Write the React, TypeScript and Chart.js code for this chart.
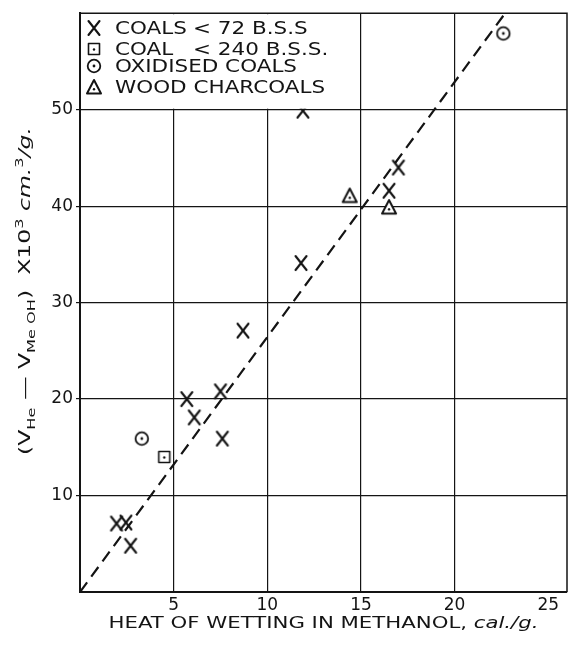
import React, { useEffect, useRef } from "react";
import { Chart, registerables } from "chart.js";

Chart.register(...registerables);

// ---- data ----
const coalsX = [11.9, 11.8, 8.7, 7.5, 5.7, 6.1, 7.6, 1.95, 2.45, 2.7, 17.0, 16.5];
const coalsY = [49.9, 34.1, 27.1, 20.8, 20.0, 18.1, 15.9, 7.1, 7.2, 4.8, 44.0, 41.6];
const coal240X = [4.5];
const coal240Y = [14.0];
const oxidisedX = [3.3, 22.6];
const oxidisedY = [15.9, 57.9];
const woodX = [14.4, 16.5];
const woodY = [41.1, 39.9];
const fitX = [0, 22.7];
const fitY = [0, 60];

const xTicks = [5, 10, 15, 20, 25];
const yTicks = [10, 20, 30, 40, 50];

const legendMain = ["COALS", "COAL", "OXIDISED COALS", "WOOD CHARCOALS"];
const legendSuffix = ["< 72 B.S.S", "< 240 B.S.S.", "", ""];

const xTitleParts = [
  { t: "HEAT OF WETTING IN METHANOL, ", italic: false },
  { t: "cal./g.", italic: true },
];
const yTitleParts = [
  { t: "(V" },
  { t: "He", sub: true },
  { t: " \u2014 V" },
  { t: "Me OH", sub: true },
  { t: ")" },
  { t: "  X10" },
  { t: "3", sup: true },
  { t: " cm.", italic: true },
  { t: "3", sup: true },
  { t: "/g.", italic: true },
];

const FONT = "DejaVu Sans";
const INK = "#141414";

type Part = { t: string; italic?: boolean; sub?: boolean; sup?: boolean };

function makeMarker(kind: string): HTMLCanvasElement {
  const c = document.createElement("canvas");
  c.width = 20;
  c.height = 20;
  const g = c.getContext("2d")!;
  g.strokeStyle = INK;
  g.fillStyle = INK;
  g.lineWidth = 1.8;
  g.lineCap = "round";
  g.lineJoin = "round";
  const m = 10;
  if (kind === "x") {
    g.lineWidth = 2.1;
    g.beginPath();
    g.moveTo(4.5, 3);
    g.lineTo(15.5, 17);
    g.moveTo(15.5, 3);
    g.lineTo(4.5, 17);
    g.stroke();
  } else if (kind === "circle") {
    g.fillStyle = "#fff";
    g.beginPath();
    g.arc(m, m, 6.3, 0, Math.PI * 2);
    g.fill();
    g.stroke();
    g.fillStyle = INK;
    g.beginPath();
    g.arc(m, m, 1.4, 0, Math.PI * 2);
    g.fill();
  } else if (kind === "square") {
    g.fillStyle = "#fff";
    g.fillRect(4, 4, 12, 12);
    g.lineWidth = 1.6;
    g.strokeRect(4.5, 4.5, 11, 11);
    g.fillStyle = INK;
    g.beginPath();
    g.arc(m, m + 0.5, 1.2, 0, Math.PI * 2);
    g.fill();
  } else if (kind === "triangle") {
    g.fillStyle = "#fff";
    g.beginPath();
    g.moveTo(m, 3);
    g.lineTo(17, 16.5);
    g.lineTo(3, 16.5);
    g.closePath();
    g.fill();
    g.lineWidth = 2;
    g.stroke();
    g.fillStyle = INK;
    g.beginPath();
    g.arc(m, 12.2, 1.2, 0, Math.PI * 2);
    g.fill();
  }
  return c;
}

function drawRich(
  ctx: CanvasRenderingContext2D,
  parts: Part[],
  size: number,
  targetW: number
) {
  const fontFor = (p: Part) =>
    `${p.italic ? "italic " : ""}${p.sub || p.sup ? Math.round(size * 0.66) : size}px "${FONT}"`;
  const widths = parts.map((p) => {
    ctx.font = fontFor(p);
    return ctx.measureText(p.t).width;
  });
  const total = widths.reduce((a, b) => a + b, 0);
  const sx = targetW / total;
  ctx.save();
  ctx.scale(sx, 1);
  ctx.textAlign = "left";
  ctx.textBaseline = "alphabetic";
  ctx.fillStyle = INK;
  let x = -total / 2;
  parts.forEach((p, i) => {
    ctx.font = fontFor(p);
    const dy = p.sub ? size * 0.3 : p.sup ? -size * 0.45 : 0;
    ctx.fillText(p.t, x, dy);
    x += widths[i];
  });
  ctx.restore();
}

export default function App() {
  const ref = useRef<HTMLCanvasElement | null>(null);

  useEffect(() => {
    if (!ref.current) return;
    const mX = makeMarker("x");
    const mCircle = makeMarker("circle");
    const mSquare = makeMarker("square");
    const mTri = makeMarker("triangle");
    const legendMarkers = [mX, mSquare, mCircle, mTri];

    const pts = (xs: number[], ys: number[]) => xs.map((x, i) => ({ x, y: ys[i] }));

    const decor = {
      id: "decor",
      afterDraw(chart: any) {
        const ctx: CanvasRenderingContext2D = chart.ctx;
        const a = chart.chartArea;
        ctx.save();
        // frame (top and right)
        ctx.strokeStyle = INK;
        ctx.lineWidth = 1.5;
        ctx.beginPath();
        ctx.moveTo(a.left, a.top);
        ctx.lineTo(a.right, a.top);
        ctx.lineTo(a.right, a.bottom);
        ctx.stroke();

        // legend box (white, covers grid)
        ctx.fillStyle = "#fff";
        ctx.fillRect(a.left + 1.2, a.top + 1, 240, 94.5);
        const rowsY = [34, 55, 72, 93];
        ctx.font = `17px "${FONT}"`;
        const refW = ctx.measureText("OXIDISED COALS").width;
        const sx = 182 / refW;
        legendMain.forEach((lab, i) => {
          const y = rowsY[i];
          const mk = legendMarkers[i];
          ctx.drawImage(mk, 94 - 10, y - 6 - 10, 20, 20);
          ctx.save();
          ctx.translate(115, y);
          ctx.scale(sx, 1);
          ctx.fillStyle = INK;
          ctx.font = `17px "${FONT}"`;
          ctx.textAlign = "left";
          ctx.textBaseline = "alphabetic";
          ctx.fillText(lab, 0, 0);
          ctx.restore();
          if (legendSuffix[i]) {
            ctx.save();
            ctx.translate(193, y);
            ctx.scale(sx, 1);
            ctx.fillStyle = INK;
            ctx.font = `17px "${FONT}"`;
            ctx.fillText(legendSuffix[i], 0, 0);
            ctx.restore();
          }
        });

        // x title
        ctx.save();
        ctx.translate((a.left + a.right) / 2, 628);
        drawRich(ctx, xTitleParts, 16, 430);
        ctx.restore();

        // y title
        ctx.save();
        ctx.translate(30, 291);
        ctx.rotate(-Math.PI / 2);
        drawRich(ctx, yTitleParts, 16, 328);
        ctx.restore();
        ctx.restore();
      },
    };

    const chart = new Chart(ref.current, {
      type: "scatter",
      data: {
        datasets: [
          {
            label: legendMain[0],
            data: pts(coalsX, coalsY),
            pointStyle: mX as any,
            pointRadius: 7,
          },
          {
            label: legendMain[1],
            data: pts(coal240X, coal240Y),
            pointStyle: mSquare as any,
            pointRadius: 7,
          },
          {
            label: legendMain[2],
            data: pts(oxidisedX, oxidisedY),
            pointStyle: mCircle as any,
            pointRadius: 7,
          },
          {
            label: legendMain[3],
            data: pts(woodX, woodY),
            pointStyle: mTri as any,
            pointRadius: 7,
          },
          {
            label: "fit",
            data: pts(fitX, fitY),
            showLine: true,
            borderColor: INK,
            borderWidth: 2.2,
            borderDash: [12, 7],
            pointRadius: 0,
            order: 10,
          } as any,
        ],
      },
      options: {
        animation: false,
        responsive: false,
        devicePixelRatio: 1,
        layout: { padding: { left: 0, right: 3, top: 12, bottom: 0 } },
        plugins: {
          legend: { display: false },
          tooltip: { enabled: false },
          title: { display: false },
        },
        scales: {
          x: {
            type: "linear",
            min: 0,
            max: 26,
            afterBuildTicks: (s: any) => {
              s.ticks = xTicks.map((v) => ({ value: v }));
            },
            afterFit: (s: any) => {
              s.height = 59;
            },
            grid: {
              color: (c: any) => (c.tick && c.tick.value === 25 ? "rgba(0,0,0,0)" : INK),
              lineWidth: 1.2,
              drawTicks: false,
            },
            border: { color: INK, width: 2 },
            ticks: {
              color: INK,
              padding: 3,
              maxRotation: 0,
              autoSkip: false,
              font: { family: FONT, size: 17 },
            },
          },
          y: {
            type: "linear",
            min: 0,
            max: 60,
            afterBuildTicks: (s: any) => {
              s.ticks = yTicks.map((v) => ({ value: v }));
            },
            afterFit: (s: any) => {
              s.width = 80;
            },
            grid: {
              color: INK,
              lineWidth: 1.2,
              drawTicks: true,
              tickLength: 4,
            },
            border: { color: INK, width: 2 },
            ticks: {
              color: INK,
              padding: 3,
              autoSkip: false,
              font: { family: FONT, size: 17 },
            },
          },
        },
      },
      plugins: [decor],
    } as any);

    return () => chart.destroy();
  }, []);

  return (
    <div
      style={{
        position: "fixed",
        left: 0,
        top: 0,
        width: 575,
        height: 651,
        background: "#fff",
      }}
    >
      <canvas ref={ref} width={575} height={651} />
    </div>
  );
}
